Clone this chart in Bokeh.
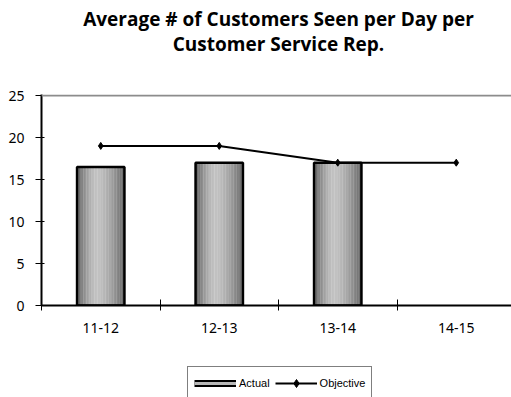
import numpy as np
from bokeh.plotting import figure
from bokeh.layouts import column
from bokeh.models import (Range1d, FixedTicker, Label, Legend, LegendItem, Span)
from bokeh.embed import file_html
from bokeh.resources import INLINE

# ---- data ----
categories = ["11-12", "12-13", "13-14", "14-15"]
actual = [16.5, 17.0, 17.0]
objective = [19.0, 19.0, 17.0, 17.0]
y_ticks = [0, 5, 10, 15, 20, 25]
title_lines = ["Average # of Customers Seen per Day per", "Customer Service Rep."]
legend_labels = ["Actual", "Objective"]

# ---- layout ----
W = 511
L = 41
H_TITLE, H_MAIN, H_LEG = 60, 306, 31
FRAME_TOP, FRAME_BOT = 94, 305          # in page pixels
T = FRAME_TOP - H_TITLE
B = H_TITLE + H_MAIN - FRAME_BOT
cat_px = 118.5
x_end = (W - L) / cat_px
px_per_unit = 8.4
y_top = (FRAME_BOT - FRAME_TOP) / px_per_unit

common = dict(output_backend="svg", toolbar_location=None, title=None,
              background_fill_color="white", border_fill_color="white",
              outline_line_color=None)

# ---- title strip ----
pt = figure(width=W, height=H_TITLE, x_range=Range1d(L, W), y_range=Range1d(0, H_TITLE),
            min_border_left=L, min_border_right=0, min_border_top=0,
            min_border_bottom=0, x_axis_type=None, y_axis_type=None, **common)
pt.xgrid.visible = False
pt.ygrid.visible = False
for k, line in enumerate(title_lines):
    pt.add_layout(Label(x=(L + W + 4) / 2, y=H_TITLE - (18 + 25 * k), text=line,
                        text_align="center", text_baseline="alphabetic",
                        text_font="Open Sans", text_font_style="bold",
                        text_font_size="19px", text_color="black"))

# ---- main chart ----
p = figure(width=W, height=H_MAIN,
           x_range=Range1d(0, x_end), y_range=Range1d(0, y_top),
           min_border_left=L, min_border_right=0, min_border_top=T,
           min_border_bottom=B, **common)
p.xgrid.visible = False
p.ygrid.visible = False

cat_x = np.arange(len(categories)) + 0.5
bar_x = cat_x[:len(actual)]

# top border line of the plot area
p.add_layout(Span(location=25, dimension="width", line_color="#8c8c8c",
                  line_width=2))

# bars with a cylinder-like gradient
bw = 0.4
N = 30
for i in range(N):
    frac = (i + 0.5) / N
    if frac < 0.42:
        t = (0.42 - frac) / 0.42
        v = 194 - (194 - 88) * t ** 1.6
    else:
        t = (frac - 0.42) / 0.58
        v = 194 - (194 - 100) * t ** 1.6
    v = int(round(v))
    col = "#%02x%02x%02x" % (v, v, v)
    off = -bw / 2 + (i + 0.5) * bw / N
    p.vbar(x=bar_x + off, width=bw / N * 1.15, top=actual, bottom=0,
           fill_color=col, line_color=None)
p.vbar(x=bar_x, width=bw, top=actual, bottom=0, fill_color=None,
       line_color="black", line_width=2.5)

# objective line
p.line(cat_x, objective, line_color="black", line_width=2)
p.scatter(cat_x, objective, marker="diamond", size=7,
          fill_color="black", line_color="black")

# axes
xa = p.xaxis[0]
xa.ticker = FixedTicker(ticks=list(cat_x), minor_ticks=list(range(len(categories))))
xa.major_label_overrides = {float(x): c for x, c in zip(cat_x, categories)}
xa.major_tick_in = 0
xa.major_tick_out = 0
xa.minor_tick_in = 6
xa.minor_tick_out = 5
xa.minor_tick_line_color = "black"
xa.minor_tick_line_width = 1
xa.axis_line_color = "black"
xa.axis_line_width = 2
xa.major_label_standoff = 12
xa.major_label_text_font = "Noto Sans"
xa.major_label_text_font_size = "14px"
xa.major_label_text_color = "black"

ya = p.yaxis[0]
ya.ticker = FixedTicker(ticks=y_ticks, minor_ticks=[])
ya.major_tick_in = 3
ya.major_tick_out = 6
ya.major_tick_line_color = "black"
ya.major_tick_line_width = 1
ya.axis_line_color = "black"
ya.axis_line_width = 2
ya.major_label_standoff = 11
ya.major_label_text_font = "Noto Sans"
ya.major_label_text_font_size = "14px"
ya.major_label_text_color = "black"

# ---- legend strip ----
pl = figure(width=W, height=H_LEG, x_range=Range1d(1000, 1000 + W),
            y_range=Range1d(1000, 1000 + H_LEG),
            min_border_left=L, min_border_right=0, min_border_top=0,
            min_border_bottom=0, x_axis_type=None, y_axis_type=None, **common)
pl.xgrid.visible = False
pl.ygrid.visible = False
# legend proxies (their data lies outside this strip's view)
lb_outer = pl.line(bar_x, actual, line_color="black", line_width=7)
lb_inner = pl.line(bar_x, actual, line_color="#b8b8b8", line_width=3)
ol = pl.line(cat_x, objective, line_color="black", line_width=2)
om = pl.scatter(cat_x, objective, marker="diamond", size=7, fill_color="black",
                line_color="black")
legend = Legend(items=[LegendItem(label=legend_labels[0], renderers=[lb_outer, lb_inner]),
                       LegendItem(label=legend_labels[1], renderers=[ol, om])],
                orientation="horizontal", location=(187 - L, H_LEG - 2 - 32),
                padding=6, spacing=5, glyph_width=42, glyph_height=20,
                label_standoff=3, label_text_font="Liberation Sans",
                label_text_font_size="11px", label_text_color="black",
                border_line_color="black", border_line_width=1,
                background_fill_color="white", background_fill_alpha=1,
                margin=0)
pl.add_layout(legend, "center")

layout = column(pt, p, pl, spacing=0)
open("out.html", "w").write(file_html(layout, INLINE))
